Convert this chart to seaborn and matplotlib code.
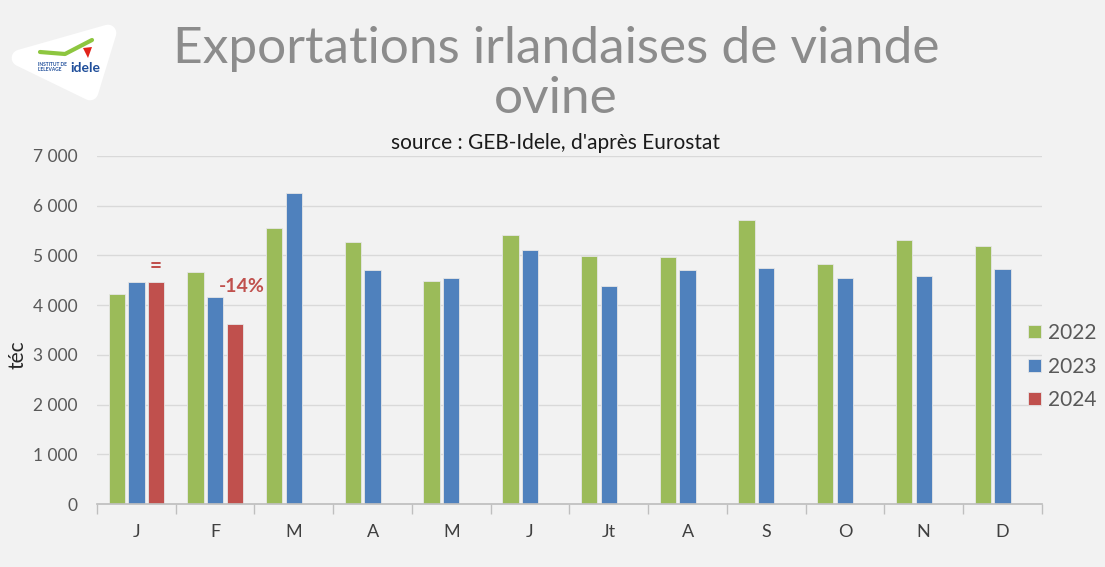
import pandas as pd
import matplotlib
matplotlib.use("Agg")
import matplotlib.pyplot as plt
from matplotlib.patches import Polygon
from matplotlib.ticker import FuncFormatter, FixedLocator
import seaborn as sns

# data (tonnes équivalent carcasse)
months = ["J", "F", "M", "A", "M", "J", "Jt", "A", "S", "O", "N", "D"]
years = ["2022", "2023", "2024"]
exp_2022 = [4220, 4670, 5550, 5270, 4490, 5410, 4990, 4960, 5710, 4830, 5310, 5190]
exp_2023 = [4470, 4170, 6260, 4710, 4540, 5110, 4390, 4710, 4750, 4540, 4590, 4730]
exp_2024 = [4470, 3615]
colors = ["#9BBB59", "#4F81BD", "#C0504D"]

rows = []
for yr, vals in zip(years, [exp_2022, exp_2023, exp_2024]):
    for i, v in enumerate(vals):
        rows.append({"pos": i, "annee": yr, "tec": v})
df = pd.DataFrame(rows)

sns.set_theme(style="white")
plt.rcParams["font.family"] = ["Lato", "DejaVu Sans"]

W, H = 1105, 567
bg = "#F2F2F2"
fig = plt.figure(figsize=(11.05, 5.67), dpi=100, facecolor=bg)
ax = fig.add_axes([0.0878, 0.111, 0.855, 0.614], facecolor=bg)

sns.barplot(data=df, x="pos", y="tec", hue="annee", hue_order=years,
            order=list(range(12)), palette=colors, saturation=1, width=0.75, gap=0.17,
            edgecolor="#E6E6E6", linewidth=0.6, ax=ax, legend=True)

ax.set_ylim(0, 7000)
ax.set_xlim(-0.5, 11.5)
ax.set_yticks(range(0, 7001, 1000))
ax.yaxis.set_major_formatter(FuncFormatter(lambda v, p: f"{int(v):,}".replace(",", " ")))
ax.grid(axis="y", color="#D9D9D9", linewidth=1)
ax.set_axisbelow(True)
for s in ["top", "right", "left"]:
    ax.spines[s].set_visible(False)
ax.spines["bottom"].set_color("#BFBFBF")

ax.set_xticks(range(12))
ax.set_xticklabels(months)
ax.xaxis.set_minor_locator(FixedLocator([i - 0.5 for i in range(13)]))
ax.tick_params(axis="x", which="major", length=0, pad=14, labelsize=13, labelcolor="#404040")
ax.tick_params(axis="x", which="minor", length=7, color="#BFBFBF", bottom=True)
ax.tick_params(axis="y", length=0, labelsize=12.5, labelcolor="#595959", pad=14)

ax.set_xlabel("")
ax.set_ylabel("")
fig.text(18 / W, 1 - 355 / H, "téc", rotation=90, fontsize=15, color="#262626",
         ha="center", va="center")

# annotations on 2024 bars
ax.text(0.25, exp_2024[0] + 120, "=", ha="center", va="bottom", color="#C0504D",
        fontsize=15, fontweight="bold")
ax.text(1.34, 4370, "-14%", ha="center", va="center", color="#C0504D",
        fontsize=14, fontweight="bold")

handles, labels = ax.get_legend_handles_labels()
ax.legend(handles, labels, loc="upper left", bbox_to_anchor=(1028 / W, 1 - 323 / H),
          bbox_transform=fig.transFigure, frameon=False, fontsize=15,
          labelcolor="#595959", handlelength=0.6, handleheight=0.6,
          handletextpad=0.35, labelspacing=0.65, borderpad=0, borderaxespad=0)

fig.text(0.503, 1 - 74 / H, "Exportations irlandaises de viande\novine", ha="center",
         va="center", fontsize=37, color="#8C8C8C", linespacing=1.12)
fig.text(0.503, 1 - 143 / H, "source : GEB-Idele, d'après Eurostat", ha="center",
         va="center", fontsize=15, color="#1A1A1A")

# logo
pts = [(20, 58), (108, 33), (90, 92)]
fig.patches.append(Polygon([(x / W, 1 - y / H) for x, y in pts], closed=True,
                           transform=fig.transFigure, facecolor="white",
                           edgecolor="white", linewidth=12, joinstyle="round"))
fig.text(38 / W, 1 - 67 / H, "INSTITUT DE\nL'ELEVAGE", fontsize=3.5, color="#1F4E9A",
         fontweight="bold", va="center", linespacing=1.0)
fig.text(70 / W, 1 - 68 / H, "idele", fontsize=10, color="#1F4E9A",
         fontweight="bold", va="center")
fig.lines.append(plt.Line2D([40 / W, 65 / W, 92 / W], [1 - 52 / H, 1 - 54 / H, 1 - 40 / H],
                            transform=fig.transFigure, color="#8DC63F", linewidth=3,
                            solid_capstyle="round"))
fig.patches.append(Polygon([(83 / W, 1 - 48 / H), (92 / W, 1 - 47 / H), (88 / W, 1 - 58 / H)],
                           closed=True, transform=fig.transFigure, facecolor="#E2231A",
                           edgecolor="none"))

fig.savefig("out.png", dpi=100, facecolor=bg)
